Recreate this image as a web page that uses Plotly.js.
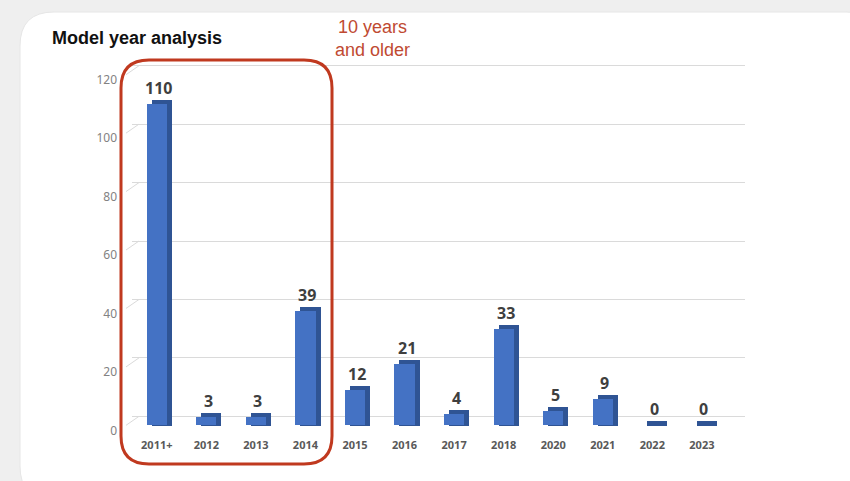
<!DOCTYPE html>
<html>
<head>
<meta charset="utf-8">
<script src="https://cdn.plot.ly/plotly-3.0.1.min.js"></script>
<style>html,body{margin:0;padding:0;background:#efefef;}#chart{width:850px;height:481px;}</style>
</head>
<body>
<div id="chart"></div>
<script>
// ---- data ----
const categories = ['2011+','2012','2013','2014','2015','2016','2017','2018','2020','2021','2022','2023'];
const counts = [110,3,3,39,12,21,4,33,5,9,0,0];
const yTickVals = [0,20,40,60,80,100,120];
const chartTitle = 'Model year analysis';
const calloutText = '10 years<br>and older';

// ---- geometry helpers (layout only) ----
const W = 850, H = 481;
const mL = 132, mR = 105, mT = 63, mB = 44;
const plotW = W - mL - mR, plotH = H - mT - mB;
const xRange = [-0.5, 11.87];
const yRange = [-4, 124];
const pxPerX = plotW / (xRange[1] - xRange[0]);
const pxPerY = plotH / (yRange[1] - yRange[0]);
const px = v => (v - mL) / plotW;
const py = v => (H - mB - v) / plotH;

function roundRect(x0, y0, x1, y1, r) {
  const X = px, Y = py;
  return 'M' + X(x0 + r) + ',' + Y(y0) +
    ' L' + X(x1 - r) + ',' + Y(y0) +
    ' Q' + X(x1) + ',' + Y(y0) + ' ' + X(x1) + ',' + Y(y0 + r) +
    ' L' + X(x1) + ',' + Y(y1 - r) +
    ' Q' + X(x1) + ',' + Y(y1) + ' ' + X(x1 - r) + ',' + Y(y1) +
    ' L' + X(x0 + r) + ',' + Y(y1) +
    ' Q' + X(x0) + ',' + Y(y1) + ' ' + X(x0) + ',' + Y(y1 - r) +
    ' L' + X(x0) + ',' + Y(y0 + r) +
    ' Q' + X(x0) + ',' + Y(y0) + ' ' + X(x0 + r) + ',' + Y(y0) + ' Z';
}

// 3D offsets
const dxPx = 5, dyPx = 4, gridDy = 9;
const shX = dxPx / pxPerX, shY = dyPx / pxPerY, grY = gridDy / pxPerY;

const traces = [
  // back-wall gridlines subplot (empty)
  {type: 'scatter', x: [], y: [], xaxis: 'x', yaxis: 'y', hoverinfo: 'skip', showlegend: false},
  // depth (side/top) faces
  {type: 'bar', x: categories, y: counts.map(v => v + 1.5), base: -1.5, xaxis: 'x2', yaxis: 'y2',
   width: 0.41, marker: {color: '#2f5494', line: {width: 0}}, hoverinfo: 'skip', showlegend: false},
  // front faces
  {type: 'bar', x: categories, y: counts, xaxis: 'x3', yaxis: 'y3',
   width: 0.41, marker: {color: '#4472c4', line: {width: 0}}, hoverinfo: 'skip', showlegend: false}
];

const valueLabels = categories.map((c, i) => ({
  x: i, y: counts[i], xref: 'x3', yref: 'y3', text: String(counts[i]), showarrow: false,
  yanchor: 'bottom', yshift: 3, xshift: 2,
  font: {family: 'Noto Sans, DejaVu Sans, sans-serif', size: 16, color: '#3f3f3f', weight: 'bold'}
}));

// diagonal connectors from front tick positions to the back wall
const frontY = v => H - mB - (v - yRange[0]) * pxPerY;
const connectors = yTickVals.map(v => ({
  type: 'line', xref: 'paper', yref: 'paper', layer: 'below',
  x0: px(126), y0: py(frontY(v)), x1: px(139), y1: py(frontY(v) - gridDy),
  line: {color: '#dadada', width: 1}
}));

const hidden = {showgrid: false, zeroline: false, showticklabels: false, showline: false, ticks: ''};

const layout = {
  width: W, height: H,
  margin: {l: mL, r: mR, t: mT, b: mB, pad: 0},
  paper_bgcolor: '#efefef', plot_bgcolor: 'rgba(0,0,0,0)',
  showlegend: false, hovermode: false, bargap: 0,
  xaxis: Object.assign({domain: [0, 1], range: [xRange[0] + shX, xRange[1]], anchor: 'y'}, hidden),
  yaxis: Object.assign({}, hidden, {domain: [0, 1], range: [yRange[0] - grY, yRange[1] - grY], anchor: 'x',
    showgrid: true, gridcolor: '#dadada', gridwidth: 1, tickvals: yTickVals}),
  xaxis2: Object.assign({domain: [0, 1], range: [xRange[0] - shX, xRange[1] - shX], anchor: 'y2', type: 'category'}, hidden),
  yaxis2: Object.assign({domain: [0, 1], range: [yRange[0] - shY, yRange[1] - shY], anchor: 'x2'}, hidden),
  xaxis3: {domain: [0, 1], range: xRange, anchor: 'y3', type: 'category', showgrid: false, zeroline: false,
    showline: false, ticks: '', tickfont: {family: 'Noto Sans, DejaVu Sans, sans-serif', size: 11, color: '#595959', weight: 'bold'}},
  yaxis3: {domain: [0, 1], range: yRange, anchor: 'x3', showgrid: false, zeroline: false, showline: false,
    ticks: '', tickvals: yTickVals, ticklabelshift: 5, ticklabelstandoff: 14,
    tickfont: {family: 'Noto Sans, DejaVu Sans, sans-serif', size: 12, color: '#828282'}},
  shapes: [
    {type: 'path', xref: 'paper', yref: 'paper', layer: 'below', path: roundRect(20, 12, 880, 500, 34),
     fillcolor: '#ffffff', line: {color: '#e6e6e6', width: 1}},
    {type: 'path', xref: 'paper', yref: 'paper', layer: 'above', path: roundRect(121, 60, 332, 464, 28),
     fillcolor: 'rgba(0,0,0,0)', line: {color: '#c0391f', width: 3}}
  ].concat(connectors),
  annotations: [
    {xref: 'paper', yref: 'paper', x: px(50), y: py(38), xanchor: 'left', yanchor: 'middle', showarrow: false,
     text: chartTitle, font: {family: 'Liberation Sans, Arial, sans-serif', size: 18, color: '#111111', weight: 'bold'}},
    {xref: 'paper', yref: 'paper', x: px(372), y: py(39), xanchor: 'center', yanchor: 'middle', showarrow: false,
     text: calloutText, align: 'center',
     font: {family: 'Liberation Sans, Arial, sans-serif', size: 18, color: '#bf4a32'}}
  ].concat(valueLabels)
};

Plotly.newPlot('chart', traces, layout, {displayModeBar: false, staticPlot: true});
</script>
</body>
</html>
